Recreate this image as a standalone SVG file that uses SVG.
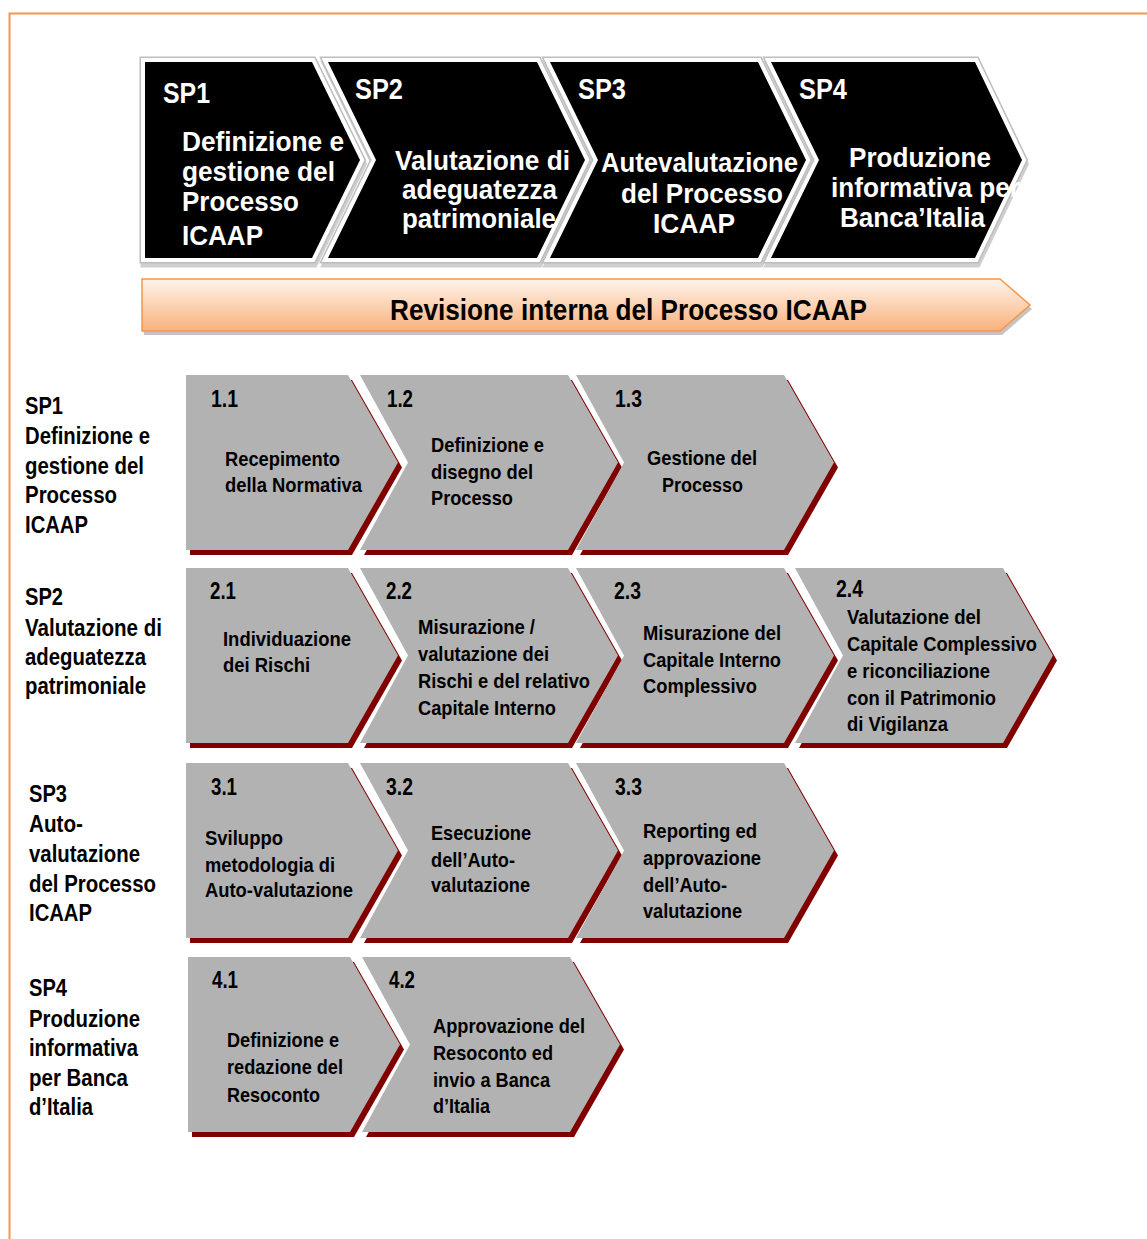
<svg xmlns="http://www.w3.org/2000/svg" width="1147" height="1239" viewBox="0 0 1147 1239">
<defs>
<linearGradient id="og" x1="0" y1="0" x2="0" y2="1">
<stop offset="0" stop-color="#fff4ec"/>
<stop offset="1" stop-color="#f9b17c"/>
</linearGradient>
<style>
text{font-family:"Liberation Sans Narrow","Liberation Sans",Arial,sans-serif;font-weight:bold}
.w{fill:#fff}
.k{fill:#000}
.hdr{font-size:29px}
.big{font-size:28px}
.bar{font-size:30px}
.lbl{font-size:23px}
.num{font-size:23px}
.stp{font-size:21px}
.bsh{fill:#cfcfcf;stroke:#cfcfcf;stroke-width:11}
.bo{fill:#bdbdbd;stroke:#bdbdbd;stroke-width:11}
.bw{fill:#fff;stroke:#fff;stroke-width:8}
.bk{fill:#000}
.gsh{fill:#800000}
.gb{fill:#b2b2b2}
</style>
</defs>
<rect width="1147" height="1239" fill="#fff"/>
<path d="M9.5,1239 V13.5 H1147" fill="none" stroke="#f79646" stroke-width="2"/>

<g id="top-sp1">
<polygon class="bsh" transform="translate(1,4)" points="145,62 312,62 360,160 312,258 145,258"/>
<polygon class="bo" points="145,62 312,62 360,160 312,258 145,258"/>
<polygon class="bw" points="145,62 312,62 360,160 312,258 145,258"/>
<polygon class="bk" points="145,62 312,62 360,160 312,258 145,258"/>
<text class="w hdr" x="163" y="103" textLength="47" lengthAdjust="spacingAndGlyphs">SP1</text>
<text class="w big" x="182" y="151" textLength="162" lengthAdjust="spacingAndGlyphs">Definizione e</text>
<text class="w big" x="182" y="181" textLength="153" lengthAdjust="spacingAndGlyphs">gestione del</text>
<text class="w big" x="182" y="211" textLength="117" lengthAdjust="spacingAndGlyphs">Processo</text>
<text class="w big" x="182" y="245" textLength="81" lengthAdjust="spacingAndGlyphs">ICAAP</text>
</g>
<g id="top-sp2">
<polygon class="bsh" transform="translate(1,4)" points="328,62 537,62 585,160 537,258 328,258 376,160"/>
<polygon class="bo" points="328,62 537,62 585,160 537,258 328,258 376,160"/>
<polygon class="bw" points="328,62 537,62 585,160 537,258 328,258 376,160"/>
<polygon class="bk" points="328,62 537,62 585,160 537,258 328,258 376,160"/>
<text class="w hdr" x="355" y="99" textLength="48" lengthAdjust="spacingAndGlyphs">SP2</text>
<text class="w big" x="395" y="170" textLength="175" lengthAdjust="spacingAndGlyphs">Valutazione di</text>
<text class="w big" x="402" y="199" textLength="155" lengthAdjust="spacingAndGlyphs">adeguatezza</text>
<text class="w big" x="402" y="228" textLength="154" lengthAdjust="spacingAndGlyphs">patrimoniale</text>
</g>
<g id="top-sp3">
<polygon class="bsh" transform="translate(1,4)" points="550,62 758,62 806,160 758,258 550,258 598,160"/>
<polygon class="bo" points="550,62 758,62 806,160 758,258 550,258 598,160"/>
<polygon class="bw" points="550,62 758,62 806,160 758,258 550,258 598,160"/>
<polygon class="bk" points="550,62 758,62 806,160 758,258 550,258 598,160"/>
<text class="w hdr" x="578" y="99" textLength="48" lengthAdjust="spacingAndGlyphs">SP3</text>
<text class="w big" x="601" y="172" textLength="197" lengthAdjust="spacingAndGlyphs">Autevalutazione</text>
<text class="w big" x="621" y="203" textLength="162" lengthAdjust="spacingAndGlyphs">del Processo</text>
<text class="w big" x="653" y="233" textLength="82" lengthAdjust="spacingAndGlyphs">ICAAP</text>
</g>
<g id="top-sp4">
<polygon class="bsh" transform="translate(1,4)" points="771,62 975,62 1022,160 975,258 771,258 819,160"/>
<polygon class="bo" points="771,62 975,62 1022,160 975,258 771,258 819,160"/>
<polygon class="bw" points="771,62 975,62 1022,160 975,258 771,258 819,160"/>
<polygon class="bk" points="771,62 975,62 1022,160 975,258 771,258 819,160"/>
<text class="w hdr" x="799" y="99" textLength="48" lengthAdjust="spacingAndGlyphs">SP4</text>
<text class="w big" x="849" y="167" textLength="142" lengthAdjust="spacingAndGlyphs">Produzione</text>
<text class="w big" x="831" y="197" textLength="189" lengthAdjust="spacingAndGlyphs">informativa per</text>
<text class="w big" x="840" y="227" textLength="145" lengthAdjust="spacingAndGlyphs">Banca’Italia</text>
</g>

<g id="revisione">
<polygon fill="#c4c4c4" points="144,283 1002,283 1032,309 1002,335 144,335"/>
<polygon fill="url(#og)" stroke="#f79646" stroke-width="1.5" points="142,279 1000,279 1030,305 1000,331 142,331"/>
<text class="k bar" x="390" y="320" textLength="477" lengthAdjust="spacingAndGlyphs">Revisione interna del Processo ICAAP</text>
</g>

<g id="label-sp1">
<text class="k lbl" x="25" y="414" textLength="38" lengthAdjust="spacingAndGlyphs">SP1</text>
<text class="k lbl" x="25" y="444" textLength="125" lengthAdjust="spacingAndGlyphs">Definizione e</text>
<text class="k lbl" x="25" y="474" textLength="119" lengthAdjust="spacingAndGlyphs">gestione del</text>
<text class="k lbl" x="25" y="503" textLength="92" lengthAdjust="spacingAndGlyphs">Processo</text>
<text class="k lbl" x="25" y="533" textLength="63" lengthAdjust="spacingAndGlyphs">ICAAP</text>
</g>
<g id="label-sp2">
<text class="k lbl" x="25" y="605" textLength="38" lengthAdjust="spacingAndGlyphs">SP2</text>
<text class="k lbl" x="25" y="636" textLength="137" lengthAdjust="spacingAndGlyphs">Valutazione di</text>
<text class="k lbl" x="25" y="665" textLength="121" lengthAdjust="spacingAndGlyphs">adeguatezza</text>
<text class="k lbl" x="25" y="694" textLength="121" lengthAdjust="spacingAndGlyphs">patrimoniale</text>
</g>
<g id="label-sp3">
<text class="k lbl" x="29" y="802" textLength="38" lengthAdjust="spacingAndGlyphs">SP3</text>
<text class="k lbl" x="29" y="832" textLength="54" lengthAdjust="spacingAndGlyphs">Auto-</text>
<text class="k lbl" x="29" y="862" textLength="111" lengthAdjust="spacingAndGlyphs">valutazione</text>
<text class="k lbl" x="29" y="892" textLength="127" lengthAdjust="spacingAndGlyphs">del Processo</text>
<text class="k lbl" x="29" y="921" textLength="63" lengthAdjust="spacingAndGlyphs">ICAAP</text>
</g>
<g id="label-sp4">
<text class="k lbl" x="29" y="996" textLength="38" lengthAdjust="spacingAndGlyphs">SP4</text>
<text class="k lbl" x="29" y="1027" textLength="111" lengthAdjust="spacingAndGlyphs">Produzione</text>
<text class="k lbl" x="29" y="1056" textLength="109" lengthAdjust="spacingAndGlyphs">informativa</text>
<text class="k lbl" x="29" y="1086" textLength="99" lengthAdjust="spacingAndGlyphs">per Banca</text>
<text class="k lbl" x="29" y="1115" textLength="64" lengthAdjust="spacingAndGlyphs">d’Italia</text>
</g>

<g id="step-1-1">
<polygon class="gsh" transform="translate(4,5)" points="186,375 348,375 398,462.5 348,550 186,550"/>
<polygon class="gb" points="186,375 348,375 398,462.5 348,550 186,550"/>
<text class="k num" x="211" y="407" textLength="27" lengthAdjust="spacingAndGlyphs">1.1</text>
<text class="k stp" x="225" y="466" textLength="115" lengthAdjust="spacingAndGlyphs">Recepimento</text>
<text class="k stp" x="225" y="492" textLength="137" lengthAdjust="spacingAndGlyphs">della Normativa</text>
</g>
<g id="step-1-2">
<polygon class="gsh" transform="translate(4,5)" points="360,375 568,375 618,462.5 568,550 360,550 408,462.5"/>
<polygon class="gb" points="360,375 568,375 618,462.5 568,550 360,550 408,462.5"/>
<text class="k num" x="387" y="407" textLength="26" lengthAdjust="spacingAndGlyphs">1.2</text>
<text class="k stp" x="431" y="452" textLength="113" lengthAdjust="spacingAndGlyphs">Definizione e</text>
<text class="k stp" x="431" y="479" textLength="102" lengthAdjust="spacingAndGlyphs">disegno del</text>
<text class="k stp" x="431" y="505" textLength="82" lengthAdjust="spacingAndGlyphs">Processo</text>
</g>
<g id="step-1-3">
<polygon class="gsh" transform="translate(4,5)" points="576,375 784,375 834,462.5 784,550 576,550 624,462.5"/>
<polygon class="gb" points="576,375 784,375 834,462.5 784,550 576,550 624,462.5"/>
<text class="k num" x="615" y="407" textLength="27" lengthAdjust="spacingAndGlyphs">1.3</text>
<text class="k stp" x="647" y="465" textLength="110" lengthAdjust="spacingAndGlyphs">Gestione del</text>
<text class="k stp" x="662" y="492" textLength="81" lengthAdjust="spacingAndGlyphs">Processo</text>
</g>

<g id="step-2-1">
<polygon class="gsh" transform="translate(4,5)" points="186,568 348,568 398,655.5 348,743 186,743"/>
<polygon class="gb" points="186,568 348,568 398,655.5 348,743 186,743"/>
<text class="k num" x="210" y="599" textLength="26" lengthAdjust="spacingAndGlyphs">2.1</text>
<text class="k stp" x="223" y="646" textLength="128" lengthAdjust="spacingAndGlyphs">Individuazione</text>
<text class="k stp" x="223" y="672" textLength="87" lengthAdjust="spacingAndGlyphs">dei Rischi</text>
</g>
<g id="step-2-2">
<polygon class="gsh" transform="translate(4,5)" points="360,568 568,568 618,655.5 568,743 360,743 408,655.5"/>
<polygon class="gb" points="360,568 568,568 618,655.5 568,743 360,743 408,655.5"/>
<text class="k num" x="386" y="599" textLength="26" lengthAdjust="spacingAndGlyphs">2.2</text>
<text class="k stp" x="418" y="634" textLength="117" lengthAdjust="spacingAndGlyphs">Misurazione /</text>
<text class="k stp" x="418" y="661" textLength="131" lengthAdjust="spacingAndGlyphs">valutazione dei</text>
<text class="k stp" x="418" y="688" textLength="172" lengthAdjust="spacingAndGlyphs">Rischi e del relativo</text>
<text class="k stp" x="418" y="715" textLength="138" lengthAdjust="spacingAndGlyphs">Capitale Interno</text>
</g>
<g id="step-2-3">
<polygon class="gsh" transform="translate(4,5)" points="576,568 784,568 834,655.5 784,743 576,743 624,655.5"/>
<polygon class="gb" points="576,568 784,568 834,655.5 784,743 576,743 624,655.5"/>
<text class="k num" x="614" y="599" textLength="27" lengthAdjust="spacingAndGlyphs">2.3</text>
<text class="k stp" x="643" y="640" textLength="138" lengthAdjust="spacingAndGlyphs">Misurazione del</text>
<text class="k stp" x="643" y="667" textLength="138" lengthAdjust="spacingAndGlyphs">Capitale Interno</text>
<text class="k stp" x="643" y="693" textLength="114" lengthAdjust="spacingAndGlyphs">Complessivo</text>
</g>
<g id="step-2-4">
<polygon class="gsh" transform="translate(4,5)" points="795,568 1003,568 1053,655.5 1003,743 795,743 843,655.5"/>
<polygon class="gb" points="795,568 1003,568 1053,655.5 1003,743 795,743 843,655.5"/>
<text class="k num" x="836" y="597" textLength="27" lengthAdjust="spacingAndGlyphs">2.4</text>
<text class="k stp" x="847" y="624" textLength="134" lengthAdjust="spacingAndGlyphs">Valutazione del</text>
<text class="k stp" x="847" y="651" textLength="190" lengthAdjust="spacingAndGlyphs">Capitale Complessivo</text>
<text class="k stp" x="847" y="678" textLength="143" lengthAdjust="spacingAndGlyphs">e riconciliazione</text>
<text class="k stp" x="847" y="705" textLength="149" lengthAdjust="spacingAndGlyphs">con il Patrimonio</text>
<text class="k stp" x="847" y="731" textLength="101" lengthAdjust="spacingAndGlyphs">di Vigilanza</text>
</g>

<g id="step-3-1">
<polygon class="gsh" transform="translate(4,5)" points="186,763 348,763 398,850.5 348,938 186,938"/>
<polygon class="gb" points="186,763 348,763 398,850.5 348,938 186,938"/>
<text class="k num" x="211" y="795" textLength="26" lengthAdjust="spacingAndGlyphs">3.1</text>
<text class="k stp" x="205" y="845" textLength="78" lengthAdjust="spacingAndGlyphs">Sviluppo</text>
<text class="k stp" x="205" y="872" textLength="130" lengthAdjust="spacingAndGlyphs">metodologia di</text>
<text class="k stp" x="205" y="897" textLength="148" lengthAdjust="spacingAndGlyphs">Auto-valutazione</text>
</g>
<g id="step-3-2">
<polygon class="gsh" transform="translate(4,5)" points="360,763 568,763 618,850.5 568,938 360,938 408,850.5"/>
<polygon class="gb" points="360,763 568,763 618,850.5 568,938 360,938 408,850.5"/>
<text class="k num" x="386" y="795" textLength="27" lengthAdjust="spacingAndGlyphs">3.2</text>
<text class="k stp" x="431" y="840" textLength="100" lengthAdjust="spacingAndGlyphs">Esecuzione</text>
<text class="k stp" x="431" y="867" textLength="84" lengthAdjust="spacingAndGlyphs">dell’Auto-</text>
<text class="k stp" x="431" y="892" textLength="99" lengthAdjust="spacingAndGlyphs">valutazione</text>
</g>
<g id="step-3-3">
<polygon class="gsh" transform="translate(4,5)" points="576,763 784,763 834,850.5 784,938 576,938 624,850.5"/>
<polygon class="gb" points="576,763 784,763 834,850.5 784,938 576,938 624,850.5"/>
<text class="k num" x="615" y="795" textLength="27" lengthAdjust="spacingAndGlyphs">3.3</text>
<text class="k stp" x="643" y="838" textLength="114" lengthAdjust="spacingAndGlyphs">Reporting ed</text>
<text class="k stp" x="643" y="865" textLength="118" lengthAdjust="spacingAndGlyphs">approvazione</text>
<text class="k stp" x="643" y="892" textLength="84" lengthAdjust="spacingAndGlyphs">dell’Auto-</text>
<text class="k stp" x="643" y="918" textLength="99" lengthAdjust="spacingAndGlyphs">valutazione</text>
</g>

<g id="step-4-1">
<polygon class="gsh" transform="translate(4,5)" points="188,957 350,957 400,1044.5 350,1132 188,1132"/>
<polygon class="gb" points="188,957 350,957 400,1044.5 350,1132 188,1132"/>
<text class="k num" x="212" y="988" textLength="26" lengthAdjust="spacingAndGlyphs">4.1</text>
<text class="k stp" x="227" y="1047" textLength="112" lengthAdjust="spacingAndGlyphs">Definizione e</text>
<text class="k stp" x="227" y="1074" textLength="116" lengthAdjust="spacingAndGlyphs">redazione del</text>
<text class="k stp" x="227" y="1102" textLength="93" lengthAdjust="spacingAndGlyphs">Resoconto</text>
</g>
<g id="step-4-2">
<polygon class="gsh" transform="translate(4,5)" points="362,957 570,957 620,1044.5 570,1132 362,1132 410,1044.5"/>
<polygon class="gb" points="362,957 570,957 620,1044.5 570,1132 362,1132 410,1044.5"/>
<text class="k num" x="389" y="988" textLength="26" lengthAdjust="spacingAndGlyphs">4.2</text>
<text class="k stp" x="433" y="1033" textLength="152" lengthAdjust="spacingAndGlyphs">Approvazione del</text>
<text class="k stp" x="433" y="1060" textLength="120" lengthAdjust="spacingAndGlyphs">Resoconto ed</text>
<text class="k stp" x="433" y="1087" textLength="117" lengthAdjust="spacingAndGlyphs">invio a Banca</text>
<text class="k stp" x="433" y="1113" textLength="57" lengthAdjust="spacingAndGlyphs">d’Italia</text>
</g>
<g id="connectors"></g>
</svg>
